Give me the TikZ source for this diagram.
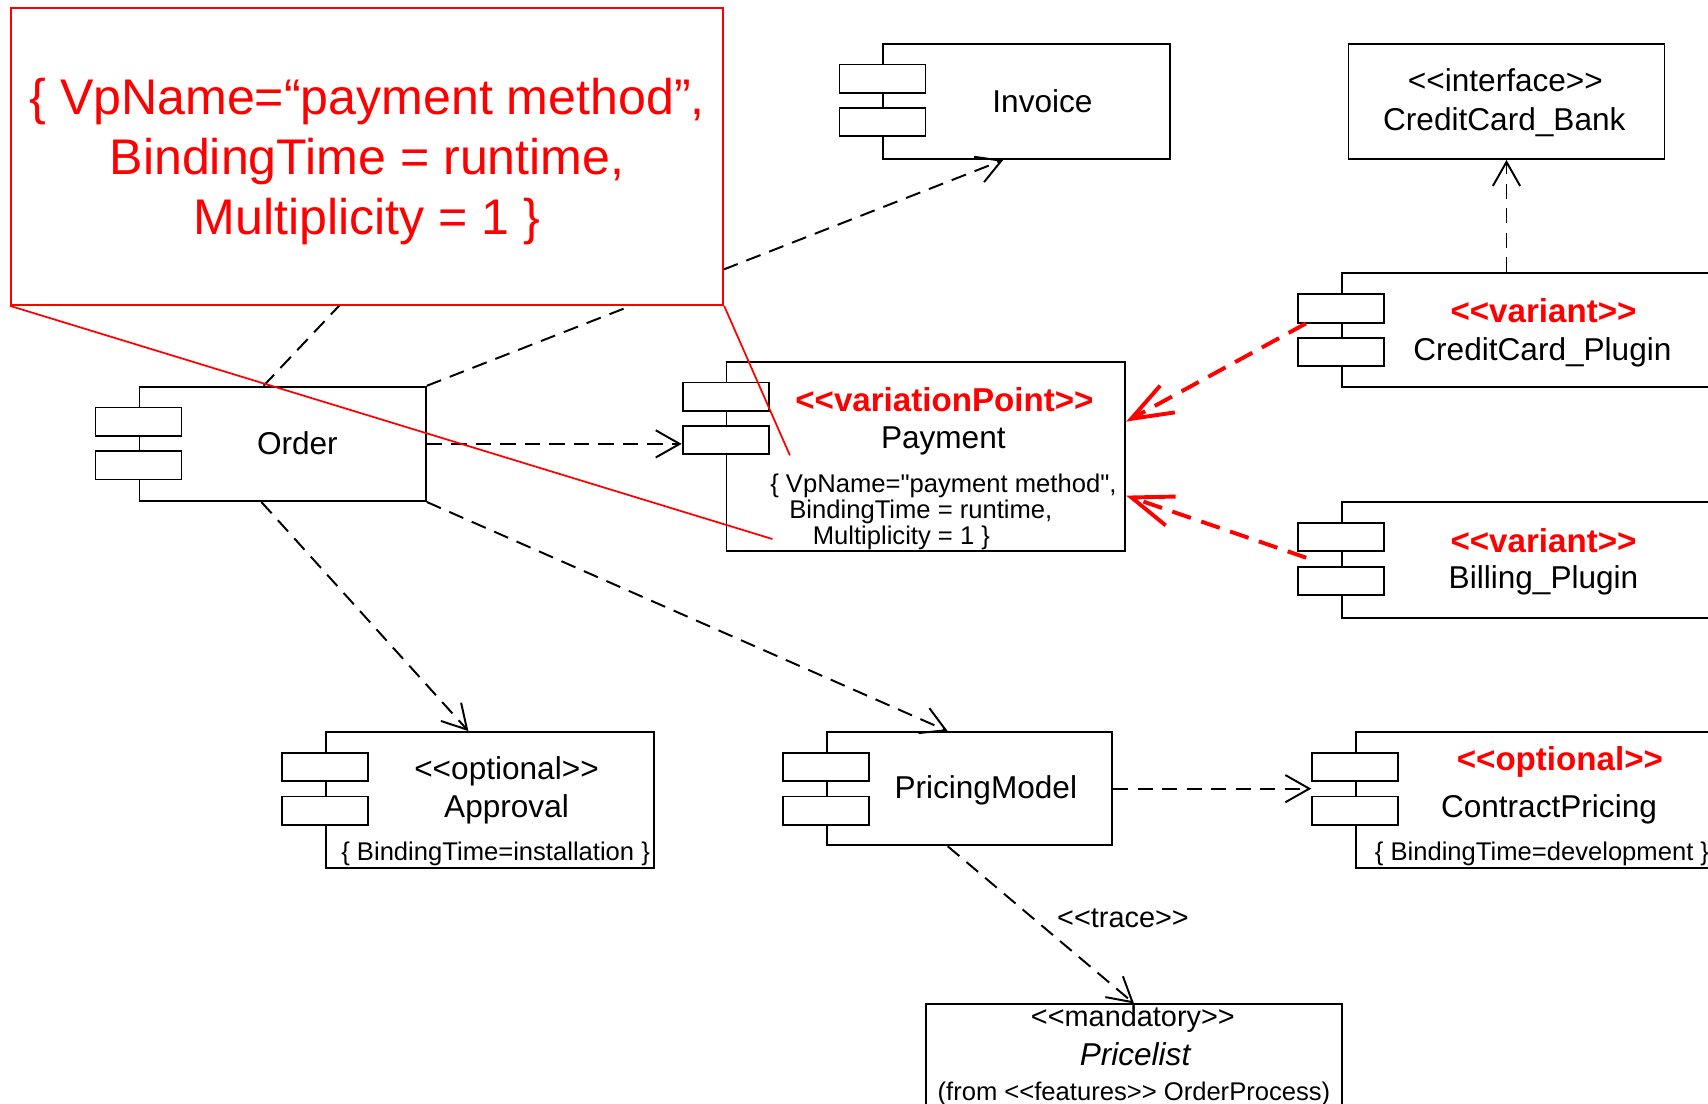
\documentclass[tikz,border=0pt]{standalone}
\usepackage{fontspec}
\newfontfamily\umlfont{Liberation Sans}
\usetikzlibrary{arrows.meta}

\tikzset{
  comp/.style={draw, fill=white, line width=1.7pt, inner sep=0pt},
  comptab/.style={draw, fill=white, line width=1.7pt, inner sep=0pt,
    minimum width=79pt, minimum height=26pt},
  compname/.style={anchor=base, inner sep=0pt, font=\umlfont\fontsize{29}{34}\selectfont},
  plainstereo/.style={anchor=base, inner sep=0pt, font=\umlfont\fontsize{26.5}{31}\selectfont},
  vpstereo/.style={anchor=base, inner sep=0pt, text=red,
    font=\umlfont\bfseries\fontsize{30.4}{36}\selectfont},
  constraint/.style={anchor=base, inner sep=0pt, font=\umlfont\fontsize{23.5}{28}\selectfont},
  notetxt/.style={anchor=base, inner sep=0pt, text=red, font=\umlfont\fontsize{46}{55}\selectfont},
  dep/.style={line width=1.8pt, dash pattern=on 14pt off 8.5pt,
    -{Straight Barb[length=22pt, width=25pt]}},
  notelink/.style={line width=1.8pt, dash pattern=on 14pt off 8.5pt},
  vpdep/.style={red, line width=3.6pt, dash pattern=on 18pt off 10pt,
    -{Straight Barb[length=38pt, width=28pt]}},
  zoomline/.style={red, line width=1.6pt},
}

\begin{document}
\begin{tikzpicture}[x=1pt, y=-1pt]
  \useasboundingbox (0,0) rectangle (1568,1013);

  % components
  \node[comp, minimum width=263pt, minimum height=105pt] (order) at (259.5,407.5) {};
  \node[comp, minimum width=263pt, minimum height=106pt] (invoice) at (942.5,93) {};
  \node[comp, minimum width=366pt, minimum height=174pt] (pay) at (850,419) {};
  \node[comp, minimum width=388pt, minimum height=104pt] (ccplug) at (1426,303) {};
  \node[comp, minimum width=388pt, minimum height=106pt] (bill) at (1426,514) {};
  \node[comp, minimum width=301pt, minimum height=125pt] (appr) at (449.5,734.5) {};
  \node[comp, minimum width=262pt, minimum height=104pt] (pricing) at (890,724) {};
  \node[comp, minimum width=375pt, minimum height=125pt] (cpr) at (1432.5,734.5) {};
  \node[comp, minimum width=290pt, minimum height=106pt] (bank) at (1383,93) {};
  \node[comp, minimum width=382pt, minimum height=130pt] (plist) at (1041,987) {};

  \foreach \c in {order,invoice,pay,ccplug,bill,appr,pricing,cpr} {
    \node[comptab] (\c-a) at ([yshift=-33pt]\c.north west) {};
    \node[comptab] (\c-b) at ([yshift=-73pt]\c.north west) {};
  }

  % texts
  \node[compname] (order-txt) at (273,417.5) {Order};
  \node[compname] (invoice-txt) at (957,103.5) {Invoice};
  \node[vpstereo] (pay-st) at (867,378) {<<variationPoint>>};
  \node[compname] (pay-txt) at (866,412) {Payment};
  \node[constraint, anchor=base west] (pay-c1) at (707,452) {\{ VpName="payment method",};
  \node[constraint, anchor=base west] (pay-c2) at (724.5,476) {BindingTime = runtime,};
  \node[constraint, anchor=base west] (pay-c3) at (746,500) {Multiplicity = 1 \}};
  \node[compname] (bank-st) at (1382,84) {<<interface>>};
  \node[compname] (bank-txt) at (1381,120) {CreditCard\_Bank};
  \node[vpstereo] (ccplug-st) at (1417,296) {<<variant>>};
  \node[compname] (ccplug-txt) at (1416,330.5) {CreditCard\_Plugin};
  \node[vpstereo] (bill-st) at (1417,507.5) {<<variant>>};
  \node[compname] (bill-txt) at (1417,540) {Billing\_Plugin};
  \node[compname] (appr-st) at (465,716) {<<optional>>};
  \node[compname] (appr-txt) at (465,750.5) {Approval};
  \node[constraint] (appr-c) at (455,789.5) {\{ BindingTime=installation \}};
  \node[compname] (pricing-txt) at (905,733) {PricingModel};
  \node[vpstereo] (cpr-st) at (1432,707.5) {<<optional>>};
  \node[compname] (cpr-txt) at (1422,750.5) {ContractPricing};
  \node[constraint, anchor=base west] (cpr-c) at (1262,789.5) {\{ BindingTime=development \}};
  \node[plainstereo] (plist-st) at (1040,942) {<<mandatory>>};
  \node[compname, font=\umlfont\itshape\fontsize{29}{34}\selectfont] (plist-txt) at (1042,978) {Pricelist};
  \node[constraint] (plist-from) at (1041,1010) {(from <<features>> OrderProcess)};

  % dependencies
  \draw[dep] (order.north east) -- ([xshift=-21.5pt]invoice.south);
  \draw[notelink] ([xshift=-17.5pt]order.north) -- (312,280);
  \draw[dep] (order.east) -- (order.east -| pay-b.west);
  \draw[dep] ([xshift=-19.5pt]order.south) -- ([xshift=-19.5pt]appr.north);
  \draw[dep] (order.south east) -- ([xshift=-20pt]pricing.north);
  \draw[dep] (pricing.east) -- (pricing.east -| cpr-b.west);
  \draw[dep] ([xshift=-20pt]pricing.south) -- node[pos=.46, right=21pt, inner sep=0pt,
    font=\umlfont\fontsize{26.5}{31}\selectfont] (trace) {<<trace>>} (plist.north);
  \draw[dep] (ccplug.north -| bank.south) -- (bank.south);

  % zoomed note
  \node[draw=red, fill=white, line width=1.6pt, inner sep=0pt,
    minimum width=654pt, minimum height=273pt] (note) at (337,143.5) {};
  \node[notetxt] (note-a) at (337,105) {\{ VpName=“payment method”,};
  \node[notetxt] (note-b) at (337,160) {BindingTime = runtime,};
  \node[notetxt] (note-c) at (337,215) {Multiplicity = 1 \}};

  \coordinate (zoom-a) at ([xshift=59pt, yshift=1pt]pay.west);
  \coordinate (zoom-b) at ([xshift=43pt, yshift=12pt]pay.south west);
  \draw[zoomline] (note.south east) -- (zoom-a);
  \draw[zoomline] (note.south west) -- (zoom-b);

  % variants
  \draw[vpdep] ([xshift=8pt]ccplug-a.south west) -- ([yshift=32pt]pay.east);
  \draw[vpdep] ([xshift=-32pt, yshift=2pt]bill.west) -- ([yshift=-36pt]pay.east);
\end{tikzpicture}
\end{document}
